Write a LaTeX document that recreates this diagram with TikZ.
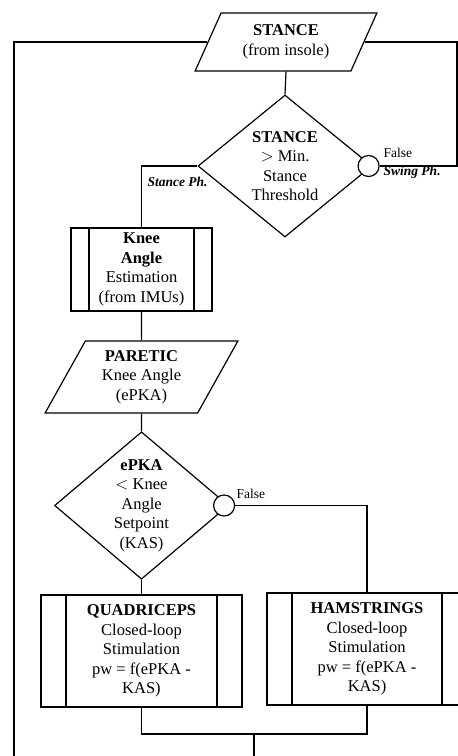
\documentclass[tikz,border=0pt]{standalone}
\usepackage{fontspec}
\setmainfont{Liberation Serif}
\usetikzlibrary{shapes.geometric}

\begin{document}
\begin{tikzpicture}[x=1pt,y=-1pt,line width=1.2pt,
  txt/.style={font=\fontsize{16.5}{19.5}\selectfont},
  io/.style={draw,txt,shape=trapezium,trapezium stretches=true,inner sep=0pt,align=center},
  decision/.style={draw,txt,shape=diamond,inner sep=0pt,minimum width=174,minimum height=142,align=center},
  predef/.style={draw,txt,rectangle,inner sep=0pt,align=center,
    path picture={\draw ([xshift=#1]path picture bounding box.north west) -- ([xshift=#1]path picture bounding box.south west);
                  \draw ([xshift=-#1]path picture bounding box.north east) -- ([xshift=-#1]path picture bounding box.south east);}},
  joint/.style={draw,circle,fill=white,inner sep=0pt,minimum size=21},
  lbl/.style={inner sep=0pt,font=\fontsize{13.5}{16}\selectfont}]
 \useasboundingbox (0,0) rectangle (458,756);
 \clip (0,0) rectangle (458,756);

 % input and first decision
 \node [io,trapezium left angle=63,trapezium right angle=117,minimum width=182,minimum height=58] (stance) at (286,42) {\textbf{STANCE}\\(from insole)};
 \node [decision] (dec1) at (285,166) {\textbf{STANCE}\\$>$ Min.\\Stance\\Threshold};
 \node [joint] (c1) at ([xshift=-4]dec1.east) {};

 % stance phase branch
 \node [predef=18,minimum width=141,minimum height=83] (knee) at (141.5,269.5) {\textbf{Knee}\\\textbf{Angle}\\Estimation\\(from IMUs)};
 \node [io,trapezium left angle=62,trapezium right angle=118,minimum width=193,minimum height=72] (paretic) at (141.5,377) {\textbf{PARETIC}\\Knee Angle\\(ePKA)};
 \node [decision] (dec2) at (141.5,505.5) {\textbf{ePKA}\\$<$ Knee\\Angle\\Setpoint\\(KAS)};
 \node [joint] (c2) at ([xshift=-5]dec2.east) {};

 \node [predef=25,minimum width=201,minimum height=112] (quad) at (141.5,651) {\textbf{QUADRICEPS}\\Closed-loop\\Stimulation\\pw = f(ePKA -\\KAS)};
 \node [predef=25,minimum width=200,minimum height=112] (ham) at (367,649) {\textbf{HAMSTRINGS}\\Closed-loop\\Stimulation\\pw = f(ePKA -\\KAS)};

 \coordinate (lBot) at (14,760);
 \coordinate (rBend) at (457,165);
 \coordinate (merge) at (254,734);
 \coordinate (out) at (254,760);

 \draw (stance.left side) -| (lBot);
 \draw (c1.east) -| (rBend) |- (stance.right side);
 \draw (stance.south) -- (dec1.north);
 \draw (dec1.west) -| (knee.north);
 \draw (knee.south) -- (paretic.north);
 \draw (paretic.south) -- (dec2.north);
 \draw (dec2.south) -- (quad.north);
 \draw (c2.east) -| (ham.north);
 \draw (quad.south) |- (merge) -| (ham.south);
 \draw (merge) -- (out);

 % labels
 \node [lbl,anchor=base west] (f1) at (383,157) {False};
 \node [lbl,anchor=base west] (sw) at (383,175) {\textbf{\textit{Swing Ph.}}};
 \node [lbl,anchor=base west] (st) at (147,186) {\textbf{\textit{Stance Ph.}}};
 \node [lbl,anchor=base west] (f2) at (236,498) {False};

\end{tikzpicture}
\end{document}
